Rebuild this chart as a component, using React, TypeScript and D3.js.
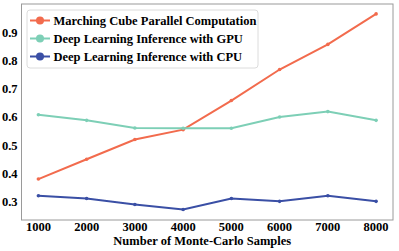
import React from "react";
import * as d3 from "d3";

const samples = [1000, 2000, 3000, 4000, 5000, 6000, 7000, 8000];
const marching = [0.38, 0.45, 0.52, 0.555, 0.658, 0.768, 0.857, 0.965];
const gpuInference = [0.608, 0.588, 0.561, 0.56, 0.56, 0.6, 0.619, 0.588];
const cpuInference = [0.321, 0.311, 0.29, 0.272, 0.311, 0.301, 0.321, 0.301];
const yTicks = [0.3, 0.4, 0.5, 0.6, 0.7, 0.8, 0.9];

const series = [
  { name: "Marching Cube Parallel Computation", values: marching, color: "#f26b4d" },
  { name: "Deep Learning Inference with GPU", values: gpuInference, color: "#7dcfb6" },
  { name: "Deep Learning Inference with CPU", values: cpuInference, color: "#3a4fa5" },
];

const W = 399;
const H = 251;
const m = { left: 21.5, right: 6, top: 4, bottom: 31 };
const font = "'Liberation Serif', 'DejaVu Serif', serif";

export default function App() {
  const x = d3.scaleLinear().domain([650, 8350]).range([m.left, W - m.right]);
  const y = d3.scaleLinear().domain([0.235, 1.0]).range([H - m.bottom, m.top]);
  const line = d3
    .line<number>()
    .x((_, i) => x(samples[i]))
    .y((d) => y(d));

  return (
    <svg
      width={W}
      height={H}
      style={{ position: "absolute", left: 0, top: 0, display: "block", background: "#fff" }}
      fontFamily={font}
      fontWeight="bold"
    >
      {series.map((s) => (
        <g key={s.name}>
          <path d={line(s.values) ?? ""} fill="none" stroke={s.color} strokeWidth={2} />
          {s.values.map((v, i) => (
            <circle key={i} cx={x(samples[i])} cy={y(v)} r={1.8} fill={s.color} />
          ))}
        </g>
      ))}

      <rect
        x={m.left}
        y={m.top}
        width={W - m.right - m.left}
        height={H - m.bottom - m.top}
        fill="none"
        stroke="#9a9a9a"
        strokeWidth={1}
      />

      {yTicks.map((t) => (
        <text key={t} x={m.left - 4} y={y(t)} dy="0.35em" textAnchor="end" fontSize={12.5}>
          {d3.format(".1f")(t)}
        </text>
      ))}
      {samples.map((t) => (
        <text key={t} x={x(t)} y={H - m.bottom + 11} textAnchor="middle" fontSize={12.5}>
          {t}
        </text>
      ))}
      <text x={(m.left + W - m.right) / 2 - 5} y={H - 6} textAnchor="middle" fontSize={12.5}>
        Number of Monte-Carlo Samples
      </text>

      <g transform="translate(27,10)">
        <rect x={0} y={0} width={231} height={58} rx={3} fill="#fff" fillOpacity={0.85} stroke="#dcdcdc" />
        {series.map((s, i) => (
          <g key={s.name} transform={`translate(0,${10.5 + i * 18})`}>
            <line x1={3} x2={23} y1={0} y2={0} stroke={s.color} strokeWidth={2} />
            <circle cx={13} cy={0} r={4} fill={s.color} />
            <text x={26.5} y={0} dy="0.35em" fontSize={12.5}>
              {s.name}
            </text>
          </g>
        ))}
      </g>
    </svg>
  );
}
